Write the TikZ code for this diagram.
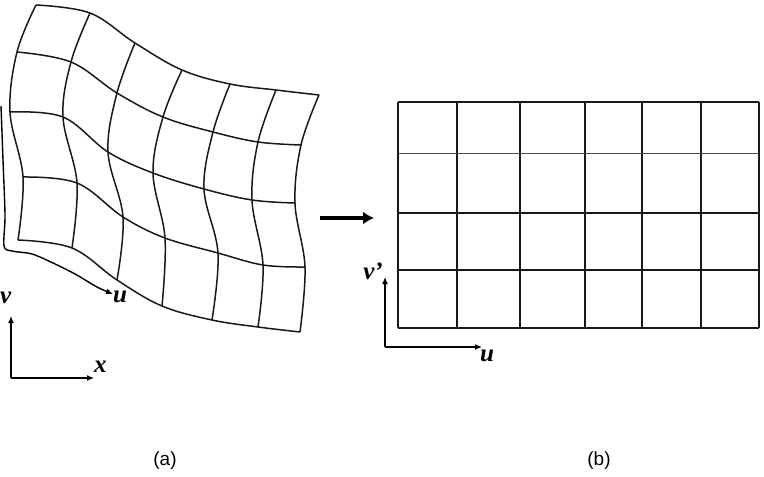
\documentclass[tikz,border=0pt]{standalone}
\usepackage{fontspec}
\setmainfont{Liberation Serif}
\newfontfamily\capfont{Liberation Sans}
\usetikzlibrary{arrows.meta}
\begin{document}
\begin{tikzpicture}[x=1pt,y=-1pt,
  gridline/.style={line width=1.5pt, black!90},
  axisline/.style={line width=1.2pt, -{Latex[length=7pt,width=6pt]}},
  lbl/.style={font=\fontsize{25}{25}\selectfont\bfseries\itshape, inner sep=0pt},
  captext/.style={font=\capfont\fontsize{19}{19}\selectfont, inner sep=0pt}]
\useasboundingbox (0,0) rectangle (764,477);
% distorted grid points
\coordinate (a00) at (36,5);  \coordinate (a01) at (90,13);  \coordinate (a02) at (135,43);
\coordinate (a03) at (182,70); \coordinate (a04) at (230,84); \coordinate (a05) at (276,90); \coordinate (a06) at (319,95);
\coordinate (a10) at (17,52);  \coordinate (a11) at (71,62);  \coordinate (a12) at (117,93);
\coordinate (a13) at (163,117); \coordinate (a14) at (213,132); \coordinate (a15) at (258,142); \coordinate (a16) at (301,145);
\coordinate (a20) at (10,112); \coordinate (a21) at (63,117); \coordinate (a22) at (108,152);
\coordinate (a23) at (153,173); \coordinate (a24) at (204,189); \coordinate (a25) at (252,200); \coordinate (a26) at (295,203);
\coordinate (a30) at (23,177); \coordinate (a31) at (77,183); \coordinate (a32) at (123,217);
\coordinate (a33) at (165,238); \coordinate (a34) at (218,253); \coordinate (a35) at (263,265); \coordinate (a36) at (305,267);
\coordinate (a40) at (18,240); \coordinate (a41) at (72,248); \coordinate (a42) at (117,280);
\coordinate (a43) at (162,306); \coordinate (a44) at (212,320); \coordinate (a45) at (258,327); \coordinate (a46) at (300,332);
% rows
\foreach \r in {0,...,4}{
  \draw[gridline] plot[smooth, tension=0.6] coordinates {(a\r0) (a\r1) (a\r2) (a\r3) (a\r4) (a\r5) (a\r6)};
}
% columns
\foreach \c in {0,...,6}{
  \draw[gridline] plot[smooth, tension=0.6] coordinates {(a0\c) (a1\c) (a2\c) (a3\c) (a4\c)};
}
% outer curved axes of (a)
\coordinate (ustart) at (1,106);
\coordinate (uend) at (113,294);
\draw[line width=1.4pt, -{Latex[length=7pt,width=6pt]}] plot[smooth, tension=0.5] coordinates
  {(ustart) (3,160) (5,215) (4,246) (12,251) (32,254) (53,263) (75,274) (97,287) (uend)};
\node[lbl, anchor=west] (ulabel) at (113,297) {u};
% straight axes of (a)
\coordinate (o1) at (11,378);
\coordinate (o1y) at (11,316);
\coordinate (o1x) at (94,378);
\draw[axisline] (o1) -- (o1y);
\draw[axisline] (o1) -- (o1x);
\node[lbl, anchor=west] (vlabel) at (0,298) {v};
\node[lbl, anchor=west] (xlabel) at (94,367) {x};
% big arrow
\coordinate (bs) at (320,218);
\coordinate (be) at (374,218);
\draw[line width=4.5pt, -{Latex[length=11pt,width=13pt]}] (bs) -- (be);
% regular grid (b)
\foreach \x in {398,457,520,585,642,701,759}{
  \draw[gridline] (\x,102) -- (\x,328);
}
\foreach \y in {102,213,270,328}{
  \draw[gridline] (398,\y) -- (759,\y);
}
\draw[line width=1pt, black!70] (398,153) -- (759,153);
% axes of (b)
\coordinate (o2) at (385,347);
\coordinate (o2y) at (385,277);
\coordinate (o2x) at (482,347);
\draw[axisline] (o2) -- (o2y);
\draw[axisline] (o2) -- (o2x);
\node[lbl] (vplabel) at (373,271) {v'};
\node[lbl, anchor=west] (uplabel) at (480,356) {u};
% captions
\node[captext] (capa) at (165,461) {(a)};
\node[captext] (capb) at (599,461) {(b)};
\end{tikzpicture}
\end{document}
